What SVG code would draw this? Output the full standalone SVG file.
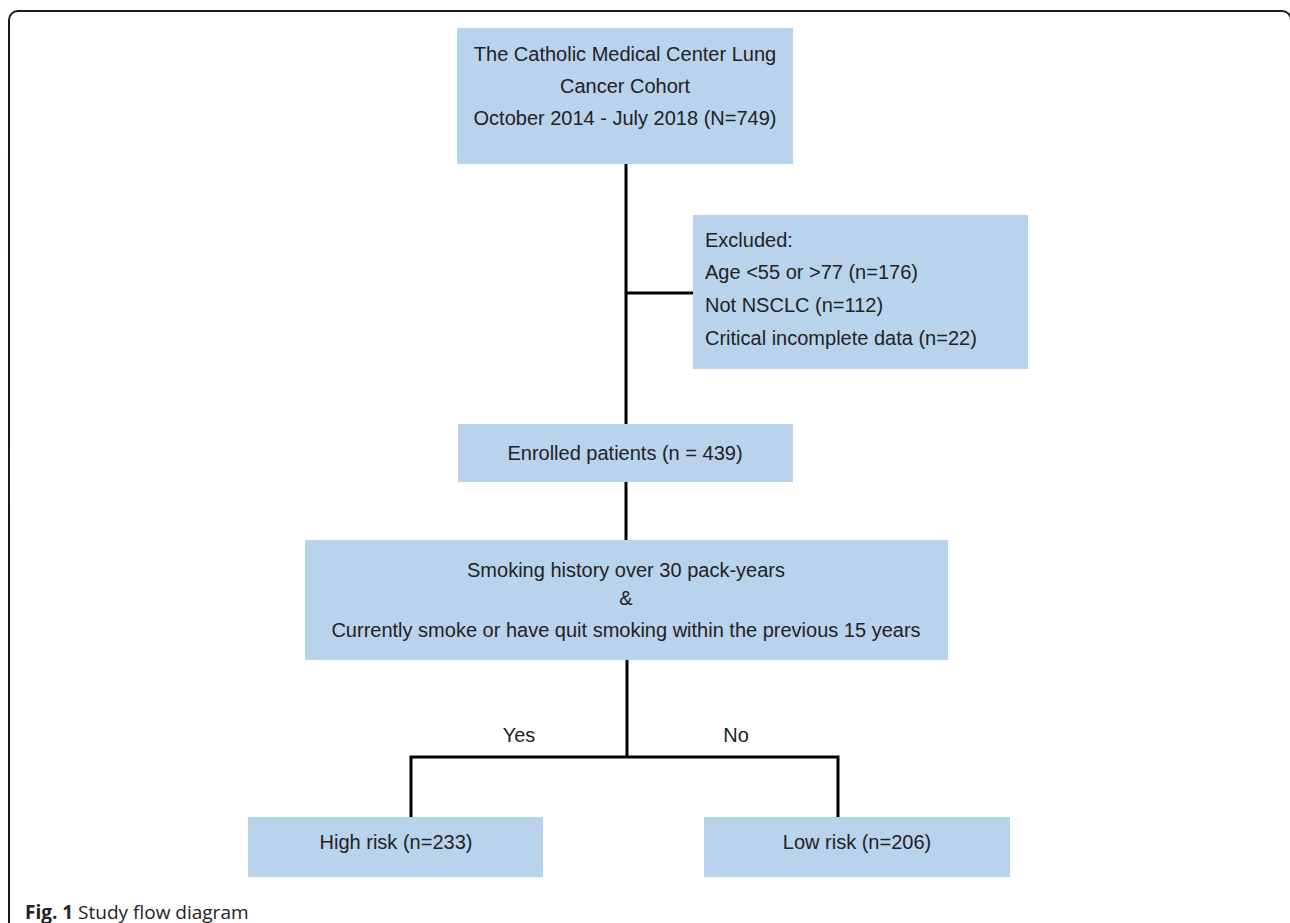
<svg xmlns="http://www.w3.org/2000/svg" width="1290" height="923" viewBox="0 0 1290 923">
<style>
.box{fill:#b9d3ec;}
.t{font-family:"Liberation Sans",Arial,sans-serif;font-size:20px;fill:#222;}
.c{text-anchor:middle;}
.ln{stroke:#000;stroke-width:3;fill:none;}
</style>
<rect x="9" y="11" width="1282" height="930" rx="9" fill="none" stroke="#1a1a1a" stroke-width="2"/>
<g id="connectors">
<path class="ln" d="M626 164 V424"/>
<path class="ln" d="M626 293 H693"/>
<path class="ln" d="M626 482 V540"/>
<path class="ln" d="M627 660 V757"/>
<path class="ln" d="M411 817 V757 H838 V817"/>
</g>
<g id="cohort">
<rect class="box" x="457" y="28" width="336" height="136"/>
<text class="t c" x="625" y="61">The Catholic Medical Center Lung</text>
<text class="t c" x="625" y="93">Cancer Cohort</text>
<text class="t c" x="625" y="125">October 2014 - July 2018 (N=749)</text>
</g>
<g id="excluded">
<rect class="box" x="693" y="215" width="335" height="154"/>
<text class="t" x="705" y="247">Excluded:</text>
<text class="t" x="705" y="279">Age &lt;55 or &gt;77 (n=176)</text>
<text class="t" x="705" y="312">Not NSCLC (n=112)</text>
<text class="t" x="705" y="345">Critical incomplete data (n=22)</text>
</g>
<g id="enrolled">
<rect class="box" x="458" y="424" width="335" height="58"/>
<text class="t c" x="625" y="460">Enrolled patients (n = 439)</text>
</g>
<g id="criteria">
<rect class="box" x="305" y="540" width="643" height="120"/>
<text class="t c" x="626" y="577">Smoking history over 30 pack-years</text>
<text class="t c" x="626" y="605">&amp;</text>
<text class="t c" x="626" y="637">Currently smoke or have quit smoking within the previous 15 years</text>
</g>
<g id="labels">
<text class="t c" x="519" y="742">Yes</text>
<text class="t c" x="736" y="742">No</text>
</g>
<g id="high">
<rect class="box" x="248" y="817" width="295" height="60"/>
<text class="t c" x="396" y="849">High risk (n=233)</text>
</g>
<g id="low">
<rect class="box" x="704" y="817" width="306" height="60"/>
<text class="t c" x="857" y="849">Low risk (n=206)</text>
</g>
<g id="caption">
<text x="25" y="919" style="font-family:'Open Sans','Liberation Sans',sans-serif;font-size:19px;fill:#222;"><tspan font-weight="bold">Fig. 1</tspan> Study flow diagram</text>
</g>
</svg>
